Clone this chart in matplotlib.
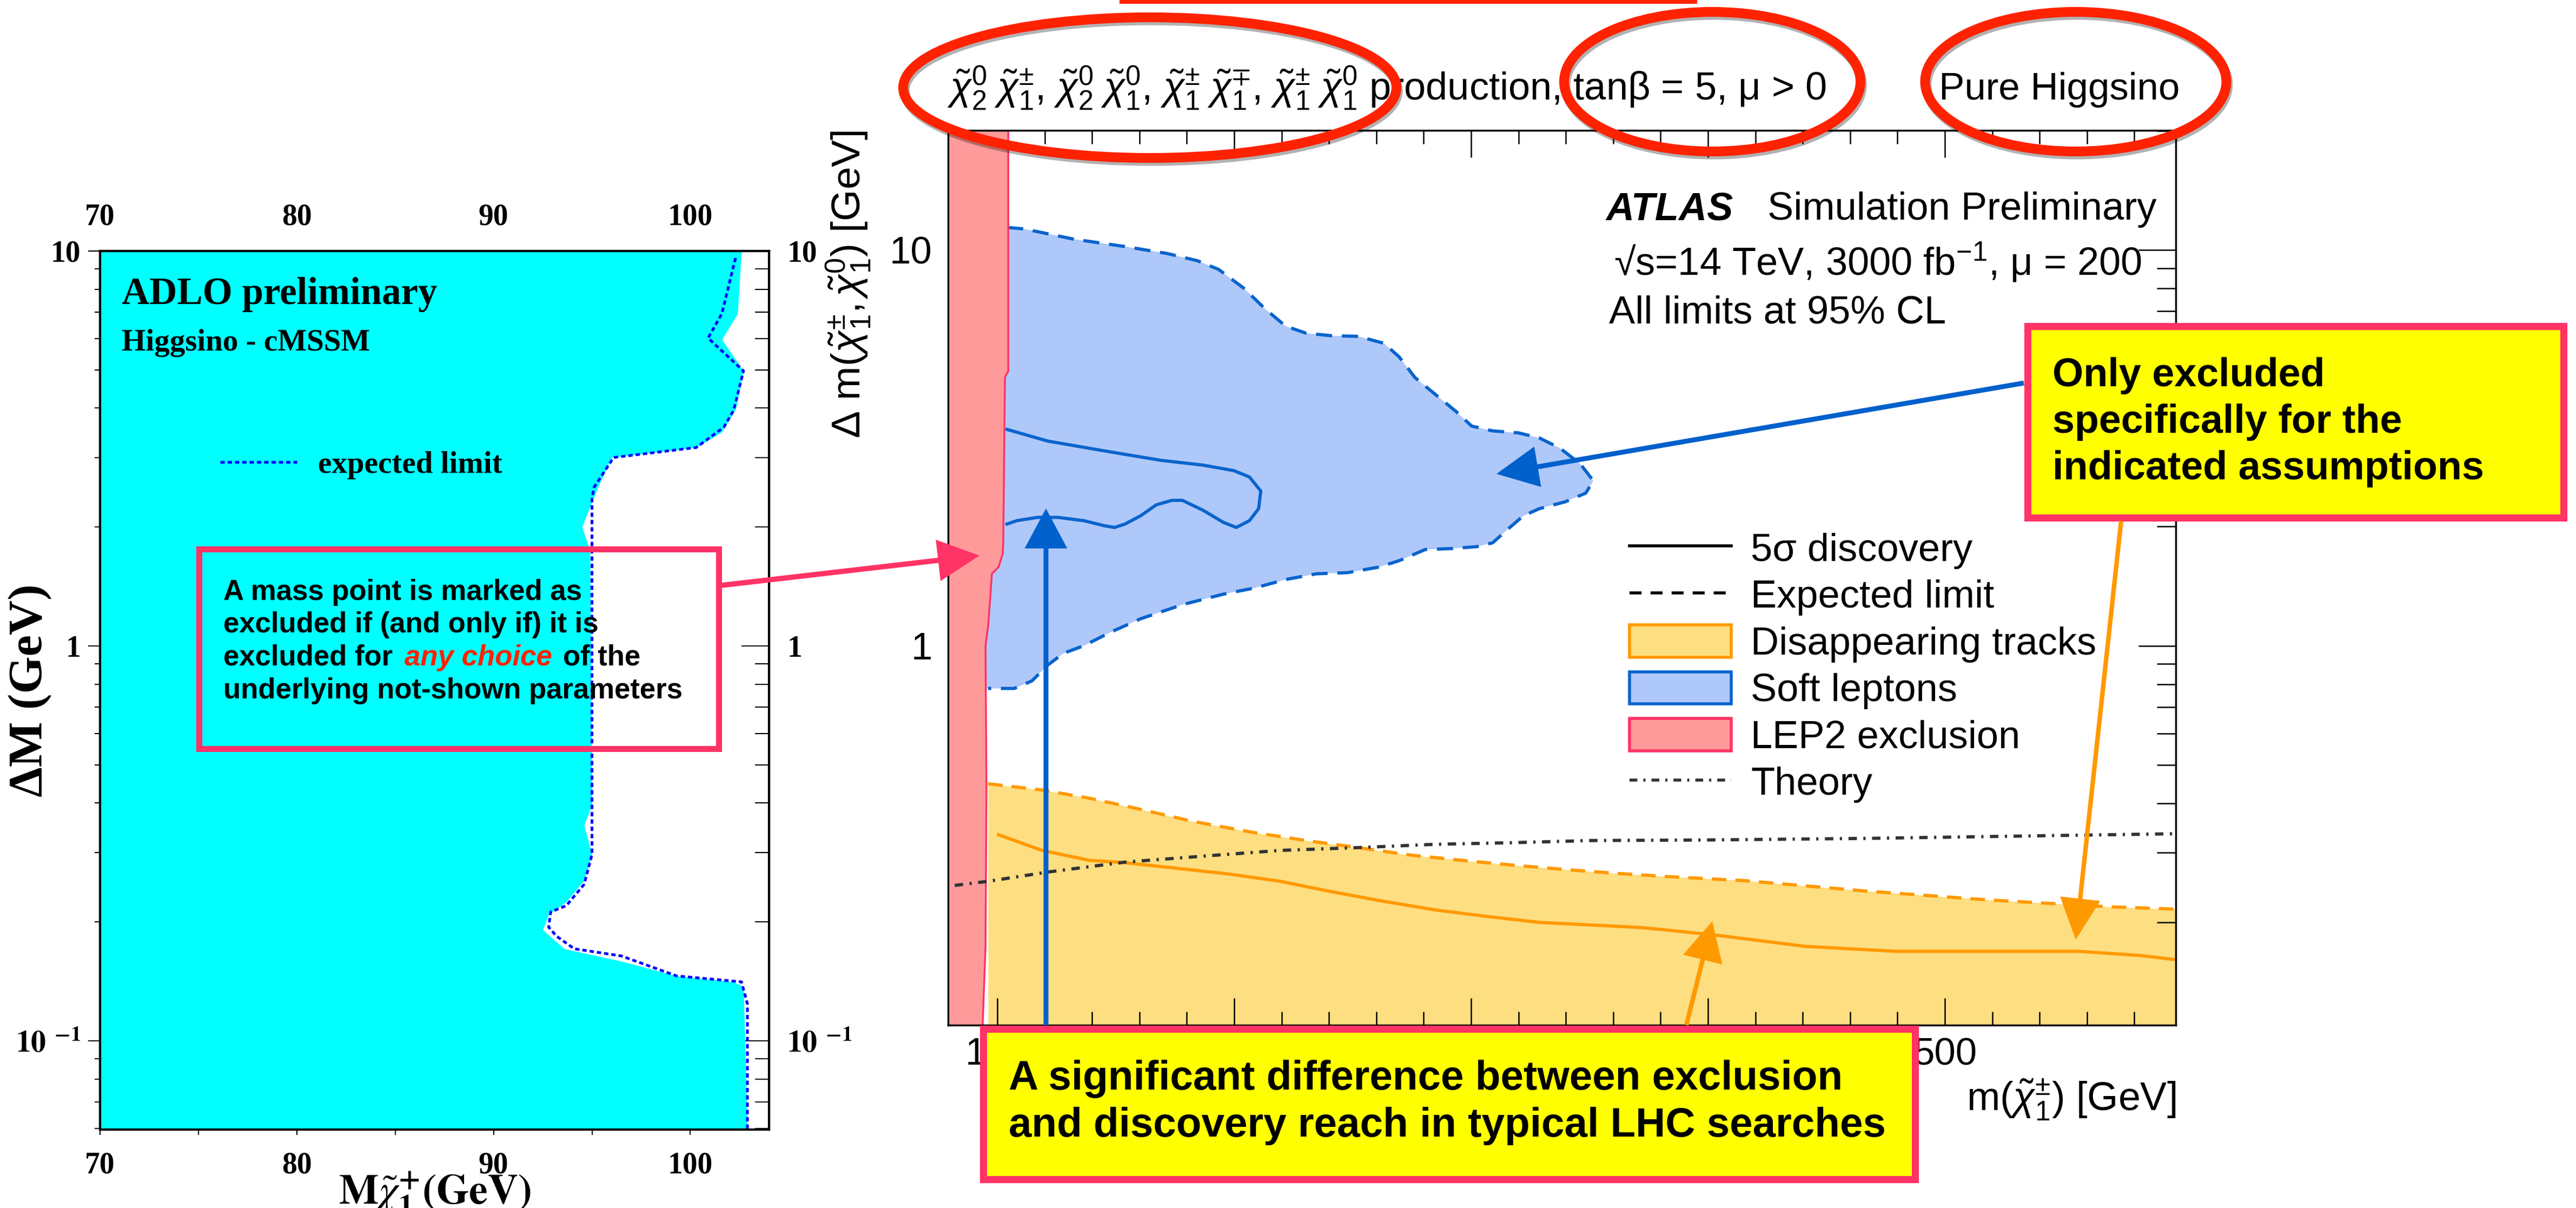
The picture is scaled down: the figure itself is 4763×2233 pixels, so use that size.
import numpy as np
import matplotlib
matplotlib.use('Agg')
import matplotlib.pyplot as plt
from matplotlib.patches import Rectangle, Ellipse, FancyArrowPatch, Patch
from matplotlib.lines import Line2D
from matplotlib.ticker import MultipleLocator, LogLocator, NullFormatter
import matplotlib.patheffects as pe

# ---- left panel: ADLO higgsino exclusion (LEP) ----
adlo_mass = [102.6, 102.4, 101.6, 102.7, 102.3, 101.6, 100.3, 96.0, 95.3, 94.9, 94.5, 94.8, 94.9,
             95.0, 94.6, 95.0, 94.6, 93.7, 92.8, 92.5, 93.6, 96.5, 99.3, 102.2, 102.7, 102.9]
adlo_dm = [10, 6.94, 5.97, 4.97, 3.97, 3.48, 3.18, 3.0, 2.52, 2.25, 2.0, 1.8, 1.71,
           0.397, 0.351, 0.296, 0.255, 0.225, 0.209, 0.191, 0.171, 0.159, 0.146, 0.141, 0.137, 0.06]
adlo_exp_mass = [102.3, 102.2, 101.6, 100.9, 102.7, 102.2, 101.7, 100.3, 96.1, 95.1, 95.0, 95.0,
                 94.6, 93.7, 92.9, 92.8, 93.2, 94.1, 96.5, 99.3, 102.6, 102.9, 102.9]
adlo_exp_dm = [9.6, 9.19, 6.94, 6.02, 4.97, 3.95, 3.58, 3.18, 3.0, 2.52, 2.35, 0.296,
               0.249, 0.22, 0.212, 0.194, 0.184, 0.171, 0.164, 0.146, 0.141, 0.124, 0.06]

# ---- right panel: ATLAS HL-LHC pure higgsino projection ----
lep_mass = [104.6, 104.6, 103.2, 102.5, 102.3, 100.5, 97.7, 96.1, 95.0, 95.4, 95.0, 93.8]
lep_dm = [20, 4.94, 4.77, 1.84, 1.71, 1.58, 1.52, 1.12, 1.0, 0.43, 0.174, 0.11]

soft_exp_mass = [104.1, 111.4, 132.2, 153.9, 171.5, 184.5, 193.4, 204.1, 213.0, 221.7, 230.4, 241.3,
                 252.3, 263.2, 269.6, 276.3, 285.0, 293.8, 300.2, 309.1, 320.0, 328.8, 337.4, 346.1,
                 351.6, 348.4, 339.7, 328.8, 322.1, 315.5, 309.1, 302.5, 291.6, 280.6, 269.6, 261.0,
                 247.9, 234.7, 221.7, 208.7, 195.4, 178.1, 160.5, 147.5, 136.5, 127.9, 121.2, 114.6,
                 107.1, 96.1]
soft_exp_dm = [11.4, 11.3, 10.65, 10.2, 9.8, 9.39, 8.93, 8.0, 7.1, 6.42, 6.16, 6.07,
               6.05, 5.81, 5.37, 4.76, 4.31, 3.90, 3.59, 3.49, 3.45, 3.35, 3.16, 2.88,
               2.61, 2.43, 2.31, 2.22, 2.13, 1.97, 1.82, 1.78, 1.76, 1.75, 1.64, 1.58,
               1.53, 1.52, 1.47, 1.40, 1.35, 1.27, 1.17, 1.08, 1.0, 0.957, 0.893, 0.815,
               0.78, 0.78]
soft_disc_mass = [104.1, 121.2, 147.5, 169.2, 186.8, 199.8, 206.4, 211.2, 210.3, 206.4, 200.9, 195.4,
                  186.8, 178.1, 173.7, 167.1, 160.5, 153.9, 149.5, 145.2, 136.5, 125.6, 116.9, 108.2, 104.1]
soft_disc_dm = [3.52, 3.29, 3.09, 2.94, 2.86, 2.77, 2.67, 2.46, 2.22, 2.07, 1.99, 2.05,
                2.20, 2.33, 2.33, 2.27, 2.13, 2.03, 1.99, 2.01, 2.07, 2.11, 2.11, 2.07, 2.03]

dt_exp_mass = [96.1, 118.9, 138.8, 160.5, 182.4, 208.7, 230.4, 252.3, 274.2, 295.9, 317.8, 339.7,
               361.4, 383.3, 415.3, 466.7, 518.0, 569.4, 597.5]
dt_exp_dm = [0.448, 0.432, 0.412, 0.386, 0.360, 0.337, 0.322, 0.309, 0.296, 0.287, 0.279, 0.272,
             0.266, 0.261, 0.255, 0.240, 0.228, 0.219, 0.216]
dt_disc_mass = [100.5, 118.9, 138.8, 153.9, 175.8, 197.7, 219.4, 241.3, 263.2, 284.9, 306.8, 328.8,
                350.5, 372.4, 402.5, 440.9, 479.5, 518.0, 556.4, 582.2, 597.5]
dt_disc_dm = [0.333, 0.304, 0.287, 0.283, 0.274, 0.265, 0.254, 0.239, 0.226, 0.215, 0.207, 0.200,
              0.197, 0.194, 0.186, 0.174, 0.169, 0.169, 0.169, 0.165, 0.161]

th_mass = [82.0, 96.1, 121.2, 153.9, 186.8, 219.4, 252.3, 285.0, 317.8, 350.5, 398.2, 466.7, 597.5]
th_dm = [0.248, 0.254, 0.268, 0.284, 0.294, 0.304, 0.309, 0.315, 0.318, 0.322, 0.323, 0.326, 0.335]

legend_labels = ['5σ discovery', 'Expected limit', 'Disappearing tracks',
                 'Soft leptons', 'LEP2 exclusion', 'Theory']
mass_ticks = [100, 200, 300, 400, 500]
mass_labels = ['100', '', '', '', '500']   # 200-400 sit under the yellow note

# colours
CYAN = '#00FFFF'
BLUE = '#0A64CC'
BLUE_FILL = '#AFC8FA'
ORANGE = '#FF9900'
ORANGE_FILL = '#FDDE81'
LEP_FILL = '#FF9A9A'
PINK = '#FF3366'
RED = '#FF2200'
YELLOW = '#FFFF00'
SERIF = 'Liberation Serif'

plt.rcParams['font.family'] = ['Liberation Sans', 'DejaVu Sans']
plt.rcParams['mathtext.fontset'] = 'custom'
plt.rcParams['mathtext.rm'] = 'Liberation Sans'
plt.rcParams['mathtext.it'] = 'Liberation Sans:italic'
plt.rcParams['mathtext.bf'] = 'Liberation Sans:bold'
plt.rcParams['mathtext.fallback'] = 'stixsans'

W, H = 4763, 2233
fig = plt.figure(figsize=(W / 100, H / 100), dpi=100)


def fpt(x, y):
    # pixel position (from top-left) -> figure fraction
    return (x / W, 1 - y / H)


def fbox(x0, y0, x1, y1):
    return [x0 / W, 1 - y1 / H, (x1 - x0) / W, (y1 - y0) / H]


# ================= left panel =================
ax1 = fig.add_axes(fbox(185, 464, 1422, 2088))
ax1.fill_betweenx(adlo_dm, 60, adlo_mass, color=CYAN, lw=0, zorder=1)
dotted = dict(color='#0000FF', lw=3.6, ls=(0, (1.6, 1.1)))
ax1.plot(adlo_exp_mass, adlo_exp_dm, zorder=2, **dotted)
ax1.set_xlim(70, 104)
ax1.set_yscale('log')
ax1.set_ylim(0.0596, 10)

tick_font = dict(fontfamily=SERIF, fontweight='bold', fontsize=40)
xt = [70, 75, 80, 85, 90, 95, 100]
xl = ['70', '', '80', '', '90', '', '100']
yt = [0.1, 1, 10]
yl = [r'$\mathbf{10}^{\;\;\mathbf{-1}}$', '1', '10']
ax1.set_xticks(xt, xl, **tick_font)
ax1.tick_params(axis='x', direction='out', length=7, width=1.5, pad=22)
ax1.set_yticks(yt, yl, math_fontfamily='stix', **tick_font)
ax1.yaxis.set_minor_locator(LogLocator(base=10, subs=np.arange(2, 10), numticks=20))
ax1.yaxis.set_minor_formatter(NullFormatter())
ax1.tick_params(axis='y', which='major', direction='out', length=16, width=1.5, pad=10)
ax1.tick_params(axis='y', which='minor', direction='out', length=7, width=1.5)

secx = ax1.secondary_xaxis('top')
secx.set_ticks(xt, xl, **tick_font)
secx.tick_params(direction='in', length=26, width=1.5, pad=26)
secy = ax1.secondary_yaxis('right')
secy.set_ticks(yt, yl, math_fontfamily='stix', **tick_font)
secy.yaxis.set_minor_locator(LogLocator(base=10, subs=np.arange(2, 10), numticks=20))
secy.yaxis.set_minor_formatter(NullFormatter())
secy.tick_params(which='major', direction='in', length=37, width=1.5, pad=24)
secy.tick_params(which='minor', direction='in', length=19, width=1.5)
for a in (ax1, secx, secy):
    for s in a.spines.values():
        s.set_linewidth(3)

ax1.set_xlabel(r'$\mathbf{M}\tilde{\chi}^{\mathbf{+}}_{\mathbf{1}}\mathbf{(GeV)}$',
               fontsize=56, math_fontfamily='stix')
ax1.xaxis.set_label_coords(0.5, -0.046)
ax1.set_ylabel('ΔM (GeV)', fontfamily=SERIF, fontweight='bold', fontsize=64)
ax1.yaxis.set_label_coords(-0.072, 0.5)

ax1.text(0.0323, 0.9397, 'ADLO preliminary', transform=ax1.transAxes, fontfamily=SERIF,
         fontweight='bold', fontsize=51, va='baseline')
ax1.text(0.0323, 0.8867, 'Higgsino - cMSSM', transform=ax1.transAxes, fontfamily=SERIF,
         fontweight='bold', fontsize=41, va='baseline')
ax1.legend([Line2D([], [], **dotted)], ['expected limit'], loc='center left',
           bbox_to_anchor=(0.1795, 0.7562), frameon=False, borderpad=0, borderaxespad=0,
           handlelength=2.5, handletextpad=0.67,
           prop={'family': SERIF, 'weight': 'bold', 'size': 41})

# ================= right panel =================
ax2 = fig.add_axes(fbox(1753, 241, 4023, 1895))
x_lo, x_hi = 79.2, 597.5
ax2.set_xlim(x_lo, x_hi)
ax2.set_yscale('log')
ax2.set_ylim(0.11, 20.05)

ax2.fill_between(dt_exp_mass, 0.01, dt_exp_dm, color=ORANGE_FILL, lw=0, zorder=1)
ax2.fill(np.r_[soft_exp_mass, x_lo, x_lo], np.r_[soft_exp_dm, soft_exp_dm[-1], soft_exp_dm[0]],
         color=BLUE_FILL, lw=0, zorder=1)
ax2.plot(dt_exp_mass, dt_exp_dm, color=ORANGE, lw=4.3, ls=(0, (4.5, 2.8)), zorder=2)
ax2.plot(dt_disc_mass, dt_disc_dm, color=ORANGE, lw=4.3, zorder=2)
ax2.plot(soft_exp_mass, soft_exp_dm, color=BLUE, lw=4.3, ls=(0, (5, 3)), zorder=2)
ax2.plot(soft_disc_mass, soft_disc_dm, color=BLUE, lw=4.3, zorder=2)
ax2.fill_betweenx(lep_dm, x_lo - 20, lep_mass, color=LEP_FILL, lw=0, zorder=3)
ax2.plot(lep_mass, lep_dm, color=PINK, lw=2.5, zorder=3.5)
theory_ls = (0, (2.6, 2.0, 0.7, 2.0))
ax2.plot(th_mass, th_dm, color='#333333', lw=4.3, ls=theory_ls, zorder=4)

ax2.set_xticks(mass_ticks, mass_labels)
ax2.xaxis.set_minor_locator(MultipleLocator(20))
ax2.set_yticks([1, 10], ['1', '10'])
ax2.yaxis.set_minor_locator(LogLocator(base=10, subs=np.arange(2, 10), numticks=20))
ax2.yaxis.set_minor_formatter(NullFormatter())
ax2.tick_params(which='both', direction='in', top=True, right=True, width=1.8, labelsize=51)
ax2.tick_params(axis='x', which='major', length=36, pad=16)
ax2.tick_params(axis='x', which='minor', length=18)
ax2.tick_params(axis='y', which='major', length=50, pad=21)
ax2.tick_params(axis='y', which='minor', length=25)
for s in ax2.spines.values():
    s.set_linewidth(2.5)
    s.set_zorder(5)

ax2.set_xlabel(r'm($\tilde{\chi}^{\pm}_{1}$) [GeV]', fontsize=53, ha='right', va='top')
ax2.xaxis.set_label_coords(1.0, -0.058)
ax2.set_ylabel(r'Δ m($\tilde{\chi}^{\pm}_{1}$,$\,\tilde{\chi}^{0}_{1}$) [GeV]', fontsize=54, ha='right')
ax2.yaxis.set_label_coords(-0.0612, 1.0)

ax2.text(0.5361, 0.9002, 'ATLAS', transform=ax2.transAxes, fontsize=52, fontweight='bold',
         fontstyle='italic', va='baseline')
ax2.text(0.6674, 0.9002, 'Simulation Preliminary', transform=ax2.transAxes, fontsize=52, va='baseline')
ax2.text(0.5423, 0.8380, '√s=14 TeV, 3000 fb$^{-1}$, μ = 200', transform=ax2.transAxes,
         fontsize=52, va='baseline')
ax2.text(0.5383, 0.7842, 'All limits at 95% CL', transform=ax2.transAxes, fontsize=52, va='baseline')

handles = [Line2D([], [], color='k', lw=4),
           Line2D([], [], color='k', lw=4, ls=(0, (4, 3))),
           Patch(facecolor=ORANGE_FILL, edgecolor=ORANGE, lw=4),
           Patch(facecolor=BLUE_FILL, edgecolor=BLUE, lw=4),
           Patch(facecolor=LEP_FILL, edgecolor=PINK, lw=4),
           Line2D([], [], color='#333333', lw=4, ls=theory_ls)]
ax2.legend(handles, legend_labels, loc='upper left', bbox_to_anchor=fpt(3013, 982),
           bbox_transform=fig.transFigure, frameon=False, fontsize=52, borderpad=0,
           borderaxespad=0, handlelength=2.6, handleheight=0.9, handletextpad=0.5,
           labelspacing=0.23)

# ================= slide annotations =================
title = (r'$\tilde{\chi}^{0}_{2}\;\tilde{\chi}^{\pm}_{1}$, $\tilde{\chi}^{0}_{2}\;\tilde{\chi}^{0}_{1}$, '
         r'$\tilde{\chi}^{\pm}_{1}\;\tilde{\chi}^{\mp}_{1}$, $\tilde{\chi}^{\pm}_{1}\;\tilde{\chi}^{0}_{1}$ '
         'production, tanβ = 5, μ > 0')
fig.text(*fpt(1751, 184), title, fontsize=52, va='baseline')
fig.text(*fpt(3585, 184), 'Pure Higgsino', fontsize=51, va='baseline')

shadow = [pe.SimpleLineShadow(offset=(2, -4), shadow_color='k', alpha=0.3), pe.Normal()]
for cx, cy, ew, eh in [(2126, 162, 912, 260), (3166, 151, 548, 258), (3838, 151, 557, 258)]:
    fig.add_artist(Ellipse(fpt(cx, cy), ew / W, eh / H, transform=fig.transFigure, fill=False,
                           edgecolor=RED, lw=13, path_effects=shadow, zorder=6))
fig.add_artist(Rectangle(fpt(2070, 7), 1068 / W, 7 / H, transform=fig.transFigure,
                         facecolor=RED, lw=0, zorder=6))


def add_box(x0, y0, x1, y1, lw_px, face):
    h = lw_px / 2
    fig.add_artist(Rectangle(fpt(x0 + h, y1 - h), (x1 - x0 - lw_px) / W, (y1 - y0 - lw_px) / H,
                             transform=fig.transFigure, facecolor=face, edgecolor=PINK,
                             lw=lw_px * 0.72, zorder=7))


def add_arrow(p0, p1, color, lw, hl, hw):
    fig.add_artist(FancyArrowPatch(fpt(*p0), fpt(*p1), transform=fig.transFigure,
                                   arrowstyle=f'-|>,head_length={hl},head_width={hw}',
                                   color=color, lw=lw, shrinkA=0, shrinkB=0, zorder=8,
                                   joinstyle='miter', capstyle='butt'))


# red note on left panel
add_box(362, 1009, 1334, 1389, 11, 'none')
note = dict(fontsize=38, fontweight='bold', va='baseline', zorder=9)
fig.text(*fpt(413, 1109), 'A mass point is marked as', **note)
fig.text(*fpt(413, 1169), 'excluded if (and only if) it is', **note)
fig.text(*fpt(413, 1230), 'excluded for', **note)
fig.text(*fpt(748, 1230), 'any choice', color=RED, fontstyle='italic', **note)
fig.text(*fpt(1041, 1230), 'of the', **note)
fig.text(*fpt(413, 1291), 'underlying not-shown parameters', **note)
add_arrow((1334, 1082), (1811, 1027), PINK, 7, 44, 22)

# yellow note, upper right
add_box(3742, 596, 4746, 963, 13, YELLOW)
yl_font = dict(fontsize=53, fontweight='bold', va='baseline', zorder=9)
fig.text(*fpt(3795, 714), 'Only excluded', **yl_font)
fig.text(*fpt(3795, 800), 'specifically for the', **yl_font)
fig.text(*fpt(3795, 886), 'indicated assumptions', **yl_font)
add_arrow((3742, 708), (2767, 876), '#0060CC', 6.5, 45, 22)
add_arrow((3922, 963), (3838, 1737), ORANGE, 6, 45, 22)

# yellow note, bottom
add_box(1811, 1895, 3547, 2186, 13, YELLOW)
yb_font = dict(fontsize=55, fontweight='bold', va='baseline', zorder=9)
fig.text(*fpt(1865, 2014), 'A significant difference between exclusion', **yb_font)
fig.text(*fpt(1865, 2101), 'and discovery reach in typical LHC searches', **yb_font)
add_arrow((1934, 1895), (1934, 940), '#0060CC', 6.5, 43, 23)
add_arrow((3118, 1895), (3166, 1703), ORANGE, 6, 43, 22)

fig.savefig('out.png', dpi=100)
